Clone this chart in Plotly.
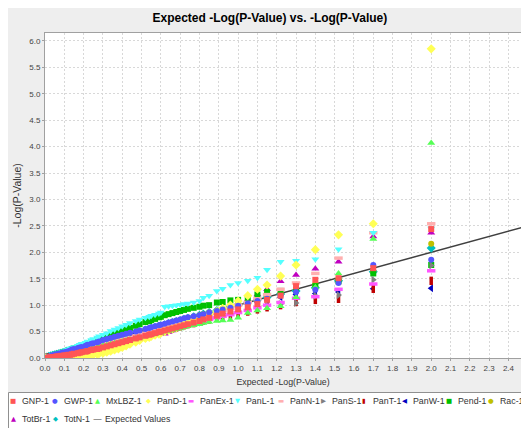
import plotly.graph_objects as go

# ---------------- data ----------------
expected_x = [2.00, 1.70, 1.52, 1.40, 1.30, 1.22, 1.15, 1.10, 1.05, 1.00,
              0.96, 0.92, 0.89, 0.85, 0.82, 0.80, 0.77, 0.74, 0.72, 0.70,
              0.68, 0.66, 0.64, 0.62, 0.60, 0.59, 0.57, 0.55, 0.54, 0.52,
              0.49, 0.47, 0.44, 0.42, 0.40, 0.38, 0.36, 0.34, 0.32, 0.30,
              0.28, 0.27, 0.25, 0.24, 0.22, 0.21, 0.19, 0.18, 0.17, 0.15,
              0.14, 0.13, 0.12, 0.11, 0.10, 0.09, 0.08, 0.07, 0.06, 0.05,
              0.04, 0.03, 0.02, 0.01, 0.00]

gnp = [2.44, 1.70, 1.51, 1.48, 1.36, 1.18, 1.10, 1.02, 0.96, 0.92, 0.88, 0.84, 0.80, 0.76, 0.73,
       0.70, 0.67, 0.64, 0.62, 0.60, 0.58, 0.56, 0.54, 0.52, 0.50, 0.49, 0.47, 0.45, 0.44, 0.42,
       0.39, 0.37, 0.34, 0.32, 0.30, 0.28, 0.26, 0.24, 0.22, 0.20, 0.18, 0.17, 0.16, 0.15, 0.13,
       0.12, 0.11, 0.10, 0.09, 0.08, 0.07, 0.06, 0.06, 0.05, 0.05, 0.04, 0.04, 0.03, 0.03, 0.02,
       0.02, 0.01, 0.01, 0.00, 0.00]
gwp = [1.86, 1.76, 1.42, 1.29, 1.25, 1.18, 1.12, 1.08, 1.03, 0.99, 0.95, 0.92, 0.89, 0.86, 0.83,
       0.81, 0.79, 0.77, 0.75, 0.73, 0.71, 0.69, 0.67, 0.65, 0.63, 0.62, 0.60, 0.58, 0.57, 0.55,
       0.52, 0.50, 0.48, 0.46, 0.44, 0.42, 0.40, 0.38, 0.36, 0.34, 0.31, 0.30, 0.28, 0.27, 0.25,
       0.23, 0.21, 0.20, 0.19, 0.17, 0.16, 0.14, 0.13, 0.12, 0.11, 0.10, 0.09, 0.08, 0.07, 0.06,
       0.05, 0.04, 0.02, 0.01, 0.00]
mxlbz = [4.07, 2.25, 1.60, 1.34, 1.15, 0.98, 0.94, 0.90, 0.85, 0.76, 0.72, 0.71, 0.70, 0.68, 0.66,
         0.64, 0.62, 0.60, 0.58, 0.56, 0.55, 0.53, 0.51, 0.50, 0.48, 0.47, 0.45, 0.44, 0.43, 0.41,
         0.39, 0.37, 0.35, 0.33, 0.31, 0.29, 0.28, 0.26, 0.24, 0.23, 0.21, 0.20, 0.18, 0.17, 0.16,
         0.15, 0.13, 0.12, 0.11, 0.10, 0.09, 0.08, 0.07, 0.07, 0.06, 0.05, 0.05, 0.04, 0.03, 0.03,
         0.02, 0.02, 0.01, 0.01, 0.00]
pand = [5.85, 2.54, 2.33, 2.05, 1.76, 1.55, 1.38, 1.30, 1.18, 1.08, 1.00, 0.94, 0.88, 0.83, 0.78,
        0.74, 0.70, 0.66, 0.63, 0.60, 0.57, 0.55, 0.52, 0.50, 0.47, 0.45, 0.43, 0.41, 0.39, 0.37,
        0.33, 0.30, 0.26, 0.23, 0.20, 0.17, 0.15, 0.13, 0.11, 0.09, 0.08, 0.07, 0.06, 0.05, 0.05,
        0.04, 0.04, 0.03, 0.03, 0.02, 0.02, 0.02, 0.01, 0.01, 0.01, 0.01, 0.01, 0.00, 0.00, 0.00,
        0.00, 0.00, 0.00, 0.00, 0.00]
panex = [1.65, 1.40, 1.30, 1.16, 1.13, 1.05, 1.00, 0.95, 0.90, 0.86, 0.82, 0.79, 0.76, 0.73, 0.70,
         0.68, 0.65, 0.62, 0.60, 0.58, 0.56, 0.54, 0.52, 0.51, 0.49, 0.48, 0.46, 0.44, 0.43, 0.41,
         0.39, 0.37, 0.34, 0.32, 0.30, 0.28, 0.27, 0.25, 0.23, 0.21, 0.19, 0.18, 0.17, 0.16, 0.14,
         0.13, 0.12, 0.11, 0.10, 0.09, 0.08, 0.07, 0.07, 0.06, 0.05, 0.05, 0.04, 0.04, 0.03, 0.03,
         0.02, 0.02, 0.01, 0.01, 0.00]
panl = [2.45, 2.37, 2.06, 1.87, 1.84, 1.82, 1.67, 1.52, 1.46, 1.42, 1.38, 1.31, 1.27, 1.18, 1.14,
        1.08, 1.05, 1.03, 1.02, 1.01, 1.00, 0.99, 0.98, 0.97, 0.86, 0.84, 0.82, 0.80, 0.78, 0.76,
        0.73, 0.70, 0.66, 0.63, 0.60, 0.57, 0.54, 0.51, 0.47, 0.44, 0.41, 0.39, 0.36, 0.34, 0.31,
        0.29, 0.27, 0.25, 0.23, 0.21, 0.19, 0.18, 0.16, 0.15, 0.13, 0.12, 0.11, 0.09, 0.08, 0.07,
        0.05, 0.04, 0.03, 0.01, 0.00]
pann = [2.54, 2.37, 1.89, 1.60, 1.42, 1.30, 1.20, 1.12, 1.05, 1.00, 0.94, 0.90, 0.86, 0.82, 0.78,
        0.75, 0.72, 0.69, 0.67, 0.65, 0.63, 0.61, 0.59, 0.57, 0.55, 0.54, 0.52, 0.50, 0.49, 0.47,
        0.44, 0.42, 0.39, 0.37, 0.35, 0.33, 0.31, 0.29, 0.27, 0.25, 0.23, 0.22, 0.20, 0.19, 0.17,
        0.16, 0.14, 0.13, 0.12, 0.11, 0.10, 0.09, 0.08, 0.07, 0.06, 0.05, 0.05, 0.04, 0.03, 0.03,
        0.02, 0.02, 0.01, 0.01, 0.00]
pans = [1.75, 1.48, 1.19, 1.18, 1.04, 1.02, 0.99, 0.96, 0.93, 0.90, 0.87, 0.84, 0.81, 0.78, 0.75,
        0.73, 0.70, 0.68, 0.66, 0.64, 0.62, 0.60, 0.58, 0.56, 0.54, 0.53, 0.51, 0.49, 0.48, 0.46,
        0.43, 0.41, 0.38, 0.36, 0.34, 0.32, 0.30, 0.28, 0.26, 0.24, 0.22, 0.21, 0.19, 0.18, 0.16,
        0.15, 0.14, 0.13, 0.12, 0.10, 0.09, 0.08, 0.08, 0.07, 0.06, 0.05, 0.05, 0.04, 0.03, 0.03,
        0.02, 0.02, 0.01, 0.01, 0.00]
pant = [1.46, 1.31, 1.12, 1.10, 1.06, 1.00, 0.96, 0.92, 0.88, 0.85, 0.82, 0.79, 0.76, 0.73, 0.71,
        0.69, 0.66, 0.64, 0.62, 0.60, 0.58, 0.56, 0.54, 0.52, 0.50, 0.49, 0.47, 0.46, 0.44, 0.43,
        0.40, 0.38, 0.35, 0.33, 0.31, 0.29, 0.27, 0.25, 0.23, 0.21, 0.19, 0.18, 0.16, 0.15, 0.14,
        0.13, 0.11, 0.10, 0.09, 0.08, 0.07, 0.07, 0.06, 0.05, 0.05, 0.04, 0.04, 0.03, 0.03, 0.02,
        0.02, 0.01, 0.01, 0.00, 0.00]
panw = [1.32, 1.31, 1.25, 1.22, 1.20, 1.15, 1.10, 1.06, 1.02, 0.98, 0.94, 0.90, 0.87, 0.84, 0.81,
        0.79, 0.76, 0.73, 0.71, 0.69, 0.67, 0.65, 0.63, 0.61, 0.59, 0.58, 0.56, 0.54, 0.53, 0.51,
        0.48, 0.46, 0.43, 0.41, 0.39, 0.37, 0.35, 0.33, 0.31, 0.29, 0.27, 0.26, 0.24, 0.23, 0.21,
        0.20, 0.18, 0.17, 0.16, 0.14, 0.13, 0.12, 0.11, 0.10, 0.09, 0.08, 0.07, 0.06, 0.05, 0.04,
        0.04, 0.03, 0.02, 0.01, 0.00]
pend = [1.76, 1.60, 1.45, 1.36, 1.28, 1.27, 1.25, 1.20, 1.12, 1.10, 1.09, 1.06, 1.05, 1.00, 0.99,
        0.97, 0.95, 0.93, 0.91, 0.89, 0.87, 0.85, 0.83, 0.81, 0.78, 0.77, 0.74, 0.72, 0.70, 0.68,
        0.64, 0.61, 0.57, 0.54, 0.52, 0.49, 0.46, 0.44, 0.41, 0.38, 0.35, 0.34, 0.31, 0.30, 0.27,
        0.26, 0.23, 0.22, 0.20, 0.18, 0.17, 0.15, 0.14, 0.13, 0.11, 0.10, 0.09, 0.08, 0.06, 0.05,
        0.04, 0.03, 0.02, 0.01, 0.00]
rac = [2.16, 1.63, 1.50, 1.40, 1.30, 1.22, 1.16, 1.10, 1.06, 1.02, 0.97, 0.93, 0.90, 0.86, 0.83,
       0.81, 0.78, 0.75, 0.73, 0.71, 0.69, 0.67, 0.65, 0.63, 0.61, 0.60, 0.58, 0.56, 0.55, 0.53,
       0.50, 0.48, 0.45, 0.43, 0.41, 0.39, 0.37, 0.35, 0.33, 0.31, 0.29, 0.28, 0.26, 0.25, 0.23,
       0.22, 0.20, 0.19, 0.18, 0.16, 0.15, 0.14, 0.12, 0.11, 0.10, 0.09, 0.08, 0.07, 0.06, 0.05,
       0.04, 0.03, 0.02, 0.01, 0.00]
totbr = [2.37, 2.30, 1.82, 1.69, 1.57, 1.45, 1.30, 1.20, 1.10, 1.02, 0.95, 0.90, 0.85, 0.80, 0.76,
         0.72, 0.68, 0.65, 0.62, 0.58, 0.55, 0.52, 0.49, 0.46, 0.46, 0.46, 0.46, 0.46, 0.45, 0.44,
         0.42, 0.40, 0.38, 0.36, 0.34, 0.32, 0.30, 0.28, 0.26, 0.24, 0.22, 0.21, 0.19, 0.18, 0.17,
         0.16, 0.14, 0.13, 0.12, 0.11, 0.10, 0.09, 0.08, 0.07, 0.07, 0.06, 0.05, 0.05, 0.04, 0.03,
         0.03, 0.02, 0.01, 0.01, 0.00]
totn = [2.08, 1.63, 1.46, 1.33, 1.27, 1.21, 1.15, 1.10, 1.05, 1.01, 0.97, 0.93, 0.90, 0.86, 0.83,
        0.81, 0.78, 0.75, 0.73, 0.71, 0.69, 0.67, 0.65, 0.63, 0.61, 0.60, 0.58, 0.56, 0.55, 0.53,
        0.50, 0.48, 0.45, 0.43, 0.41, 0.39, 0.37, 0.35, 0.33, 0.31, 0.29, 0.28, 0.26, 0.25, 0.23,
        0.22, 0.20, 0.19, 0.18, 0.16, 0.15, 0.14, 0.13, 0.12, 0.11, 0.10, 0.09, 0.08, 0.07, 0.06,
        0.05, 0.04, 0.03, 0.02, 0.00]

expected_line = [0.0, 2.5]

series_names = ["GNP-1", "GWP-1", "MxLBZ-1", "PanD-1", "PanEx-1", "PanL-1", "PanN-1",
                "PanS-1", "PanT-1", "PanW-1", "Pend-1", "Rac-1", "TotBr-1", "TotN-1"]
series_values = [gnp, gwp, mxlbz, pand, panex, panl, pann, pans, pant, panw, pend, rac, totbr, totn]

# ---------------- styles ----------------
colors = ["#FF5555", "#5555FF", "#55FF55", "#FFFF55", "#FF55FF", "#55FFFF", "#FFAFAF",
          "#808080", "#C00000", "#0000C0", "#00C000", "#C0C000", "#C000C0", "#00C0C0"]
symbols = ["square", "circle", "triangle-up", "diamond", "line-ew-open", "triangle-down",
           "line-ew-open", "triangle-right", "line-ns-open", "triangle-left", "square",
           "circle", "triangle-up", "diamond"]
sizes = [6, 6, 7, 7, 6, 7, 6, 7, 6, 7, 6, 6, 7, 7]
glyphs = ["■", "●", "▲", "◆", "▬", "▼", "▬", "▶", "▮", "◀", "■", "●", "▲", "◆"]

FONT = "Liberation Sans, Arial, sans-serif"

# plot area in pixels
L, R, T, B = 45, 521, 33, 358
W, H = R - L, B - T


def px2x(px):
    return (px - L) / W


def py2y(py):
    return (B - py) / H


fig = go.Figure()

fig.add_trace(go.Scatter(x=expected_line, y=expected_line, mode="lines",
                         line=dict(color="#404040", width=1.5),
                         name="Expected Values", showlegend=False, hoverinfo="skip"))

for i in reversed(range(len(series_names))):
    sym = symbols[i]
    is_line = sym.startswith("line")
    marker = dict(symbol=sym, size=sizes[i], color=colors[i])
    if is_line:
        marker["line"] = dict(width=3.5, color=colors[i])
    else:
        marker["line"] = dict(width=0)
    fig.add_trace(go.Scatter(x=expected_x, y=series_values[i], mode="markers",
                             marker=marker, name=series_names[i], showlegend=False))

# ---------------- background panels ----------------
shapes = [
    dict(type="rect", xref="paper", yref="paper", x0=px2x(-2), x1=px2x(530), y0=py2y(8), y1=py2y(-2),
         fillcolor="white", line=dict(width=0), layer="below"),
    dict(type="rect", xref="paper", yref="paper", x0=px2x(-2), x1=px2x(8), y0=py2y(432), y1=py2y(-2),
         fillcolor="white", line=dict(width=0), layer="below"),
    dict(type="rect", xref="paper", yref="paper", x0=px2x(8.5), x1=px2x(540), y0=py2y(440), y1=py2y(392.5),
         fillcolor="white", line=dict(width=1, color="#909090"), layer="below"),
]

# ---------------- legend (as text) ----------------
row1_text_px = [20, 62, 104, 155, 198, 244, 288, 330, 371, 411, 456, 498]
row1_y, row2_y = 401, 419
annotations = []
legend_items = [(k, row1_text_px[k], row1_y) for k in range(12)]
legend_items.append((12, 20, row2_y))
legend_items.append((13, 62, row2_y))
for k, tx, ty in legend_items:
    annotations.append(dict(x=px2x(tx - 7), y=py2y(ty), xref="paper", yref="paper",
                            text=glyphs[k], showarrow=False, xanchor="center", yanchor="middle",
                            font=dict(size=6.5, color=colors[k], family="DejaVu Sans")))
    annotations.append(dict(x=px2x(tx), y=py2y(ty), xref="paper", yref="paper",
                            text=series_names[k], showarrow=False, xanchor="left", yanchor="middle",
                            font=dict(size=8.8, color="#333333", family=FONT)))
annotations.append(dict(x=px2x(91), y=py2y(row2_y), xref="paper", yref="paper",
                        text="—", showarrow=False, xanchor="left", yanchor="middle",
                        font=dict(size=9, color="#404040", family="DejaVu Sans")))
annotations.append(dict(x=px2x(103), y=py2y(row2_y), xref="paper", yref="paper",
                        text="Expected Values", showarrow=False, xanchor="left", yanchor="middle",
                        font=dict(size=8.8, color="#333333", family=FONT)))

axis_common = dict(showgrid=True, gridcolor="#d8d8d8", griddash="2px,2px", gridwidth=1,
                   zeroline=False, showline=True, linecolor="#a0a0a0", linewidth=1,
                   ticks="outside", ticklen=2, tickcolor="#a0a0a0", tickformat=".1f",
                   tickfont=dict(size=8, color="#444444", family=FONT))

fig.update_layout(
    width=521, height=428,
    margin=dict(l=L, r=521 - R, t=T, b=428 - B, pad=0),
    paper_bgcolor="#EEEEEE", plot_bgcolor="white",
    title=dict(text="<b>Expected -Log(P-Value) vs. -Log(P-Value)</b>", x=0.518, xanchor="center",
               y=1 - 18 / 428, yanchor="middle", font=dict(size=12, color="#000000", family=FONT)),
    xaxis=dict(range=[0, 2.465], tick0=0, dtick=0.1, mirror=True,
               title=dict(text="Expected -Log(P-Value)", standoff=7,
                          font=dict(size=8.8, color="#333333", family=FONT)),
               **axis_common),
    yaxis=dict(range=[0, 6.15], tick0=0, dtick=0.5, mirror=False,
               title=dict(text="-Log(P-Value)", standoff=5,
                          font=dict(size=10.5, color="#333333", family=FONT)),
               **axis_common),
    shapes=shapes,
    annotations=annotations,
    showlegend=False,
)

fig.write_html("out.html")
